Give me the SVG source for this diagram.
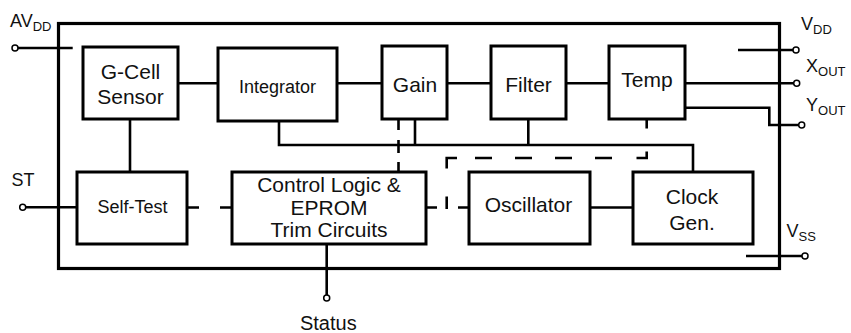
<svg xmlns="http://www.w3.org/2000/svg" width="851" height="333" viewBox="0 0 851 333">
<style>
.box{fill:#fff;stroke:#000;stroke-width:3}
.frame{fill:none;stroke:#000;stroke-width:3.2}
.ln{fill:none;stroke:#000;stroke-width:2.6}
.pin{fill:#fff;stroke:#000;stroke-width:1.5}
text{font-family:"Liberation Sans",Arial,sans-serif;fill:#111}
.t{font-size:21px;text-anchor:middle}
.lb{font-size:18px}
.sub{font-size:13px}
</style>
<rect width="851" height="333" fill="#fff"/>
<rect class="frame" x="58.5" y="23.5" width="721" height="245"/>
<g id="connectors">
<path class="ln" d="M178,83.3H218 M337,83.3H382 M447,83.3H491 M566,83.3H609"/>
<path class="ln" d="M130,119V172"/>
<path class="ln" d="M279,121V145H693V172 M415,119V145 M528.3,119V145"/>
<path class="ln" d="M590,207.5H633"/>
<path class="ln" d="M398.5,119V130 M398.5,140V153 M398.5,162V172"/>
<path class="ln" d="M646.7,119V128.5 M646.7,151.5V158H636.5 M612,158H595 M572,158H555 M532,158H515 M492,158H475 M457,158H446.7V168.5 M446.7,196.5V209"/>
<path class="ln" d="M426,207.5H437 M458,207.5H469 M187,207.5H199 M220,207.5H232"/>
<path class="ln" d="M18,48H72.7 M26,207.3H77 M738,50H793 M685,83.3H793.7 M685,107.7H769.3V125H798.7 M746,256H802 M326.7,244V295"/>
<circle class="pin" cx="15" cy="48" r="3"/>
<circle class="pin" cx="22.7" cy="207.3" r="3"/>
<circle class="pin" cx="796" cy="50" r="3"/>
<circle class="pin" cx="796.7" cy="83.3" r="3"/>
<circle class="pin" cx="801.7" cy="125" r="3"/>
<circle class="pin" cx="805" cy="256" r="3"/>
<circle class="pin" cx="326.7" cy="298" r="3"/>
</g>
<g id="gcell"><rect class="box" x="83" y="47" width="95" height="72"/><text class="t" x="130.5" y="79">G-Cell</text><text class="t" x="130.5" y="104">Sensor</text></g>
<g id="integrator"><rect class="box" x="218" y="48" width="119" height="73"/><text class="t" x="277.5" y="93" style="font-size:18px">Integrator</text></g>
<g id="gain"><rect class="box" x="382" y="46" width="65" height="73"/><text class="t" x="415" y="91.5">Gain</text></g>
<g id="filter"><rect class="box" x="491" y="46" width="75" height="73"/><text class="t" x="528.5" y="91.5">Filter</text></g>
<g id="temp"><rect class="box" x="609" y="46" width="76" height="73"/><text class="t" x="647" y="87.3">Temp</text></g>
<g id="selftest"><rect class="box" x="77" y="172" width="110" height="72"/><text class="t" x="132.5" y="213" style="font-size:18px">Self-Test</text></g>
<g id="control"><rect class="box" x="232" y="172" width="194" height="72"/><text class="t" x="329" y="191.5">Control Logic &amp;</text><text class="t" x="329" y="215">EPROM</text><text class="t" x="329" y="236.7">Trim Circuits</text></g>
<g id="oscillator"><rect class="box" x="469" y="172" width="121" height="72"/><text class="t" x="528.5" y="211.7">Oscillator</text></g>
<g id="clockgen"><rect class="box" x="633" y="172" width="120" height="72"/><text class="t" x="692" y="204">Clock</text><text class="t" x="692" y="230">Gen.</text></g>
<g id="labels">
<text class="lb" x="10" y="26.7">AV<tspan class="sub" dy="4">DD</tspan></text>
<text class="lb" x="801" y="30">V<tspan class="sub" dy="4">DD</tspan></text>
<text class="lb" x="806" y="71.7">X<tspan class="sub" dy="4">OUT</tspan></text>
<text class="lb" x="806" y="111">Y<tspan class="sub" dy="4">OUT</tspan></text>
<text class="lb" x="786.5" y="237.3">V<tspan class="sub" dy="4">SS</tspan></text>
<text class="lb" x="11.5" y="186">ST</text>
<text class="t" x="328.3" y="330" style="font-size:20px">Status</text>
</g>
</svg>
